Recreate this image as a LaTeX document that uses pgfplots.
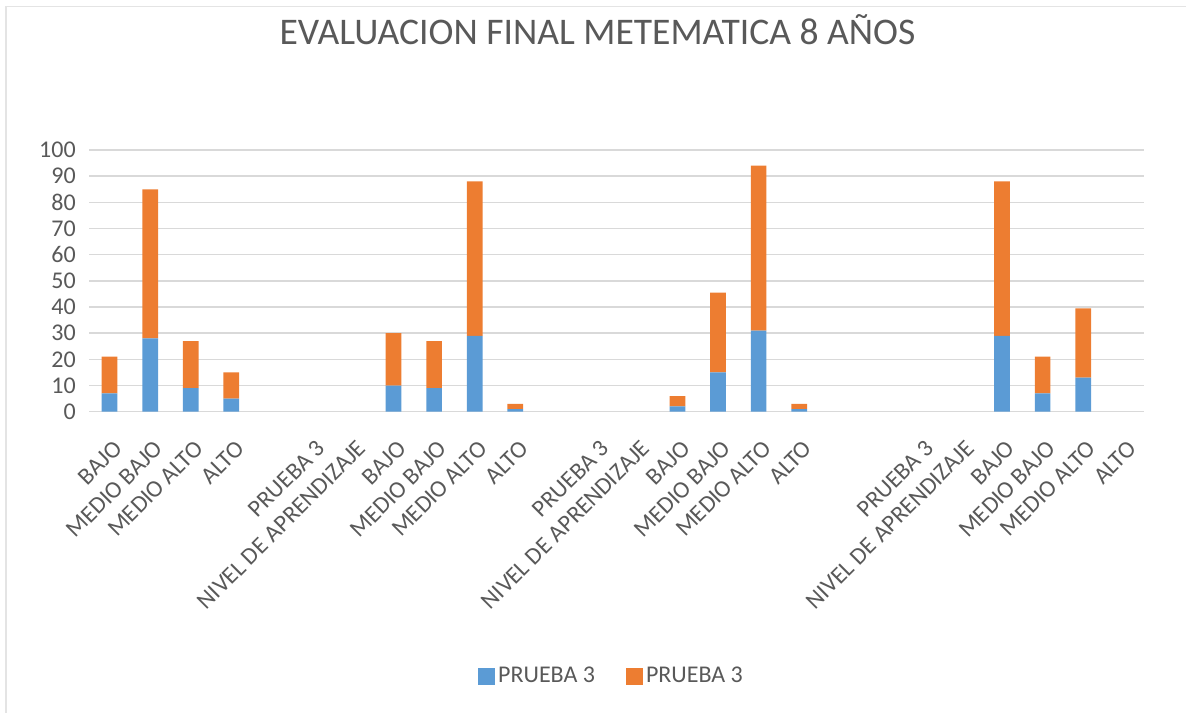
\documentclass[border=0pt]{standalone}
\usepackage{pgfplots}
\pgfplotsset{compat=1.18}
\usepackage{fontspec}
\setmainfont{Carlito}
\definecolor{barblue}{HTML}{5B9BD5}
\definecolor{barorange}{HTML}{ED7D31}
\definecolor{gridgray}{HTML}{D9D9D9}
\definecolor{textgray}{HTML}{595959}
\begin{document}
\begin{tikzpicture}
\path[use as bounding box] (0,0) rectangle (593pt,356.5pt);
\draw[color=gridgray!70, line width=0.75pt] (3pt,0) -- (3pt,353.2pt) -- (593pt,353.2pt);
\node[font=\fontsize{18.8}{22}\selectfont, text=textgray] at (298.75pt,341.5pt) {EVALUACION FINAL METEMATICA 8 AÑOS};
\begin{axis}[
  at={(44.65pt,150.65pt)}, anchor=south west,
  scale only axis, width=527.35pt, height=130.85pt,
  ybar stacked, bar width=7.85pt,
  xmin=-0.5, xmax=25.5, ymin=0, ymax=100,
  ytick={0,10,...,100},
  xtick={0,...,25},
  xticklabels={BAJO,MEDIO BAJO,MEDIO ALTO,ALTO,,PRUEBA 3,NIVEL DE APRENDIZAJE,BAJO,MEDIO BAJO,MEDIO ALTO,ALTO,,PRUEBA 3,NIVEL DE APRENDIZAJE,BAJO,MEDIO BAJO,MEDIO ALTO,ALTO,,,PRUEBA 3,NIVEL DE APRENDIZAJE,BAJO,MEDIO BAJO,MEDIO ALTO,ALTO},
  axis line style={draw=none},
  major tick length=0pt,
  ymajorgrids, grid style={color=gridgray, line width=0.75pt},
  /pgf/number format/assume math mode=true,
  tick label style={font=\fontsize{12}{14}\selectfont, text=textgray},
  yticklabel style={anchor=east, inner sep=0pt, xshift=-6.6pt},
  xticklabel style={xshift=1.5pt, yshift=-13.5pt, rotate=45, anchor=north east, inner sep=0pt},
  legend style={at={(0.4956,-1.01)}, anchor=center, draw=none, fill=none,
    legend columns=2, font=\fontsize{12}{14}\selectfont, text=textgray,
    /tikz/every even column/.append style={column sep=14pt},
    nodes={inner sep=1.5pt}},
  legend image code/.code={\fill[#1,draw=none] (0pt,-4.25pt) rectangle (8.5pt,4.25pt);},
]
\addplot[fill=barblue, draw=none] coordinates {
(0,7) (1,28) (2,9) (3,5) (7,10) (8,9) (9,29) (10,1) (14,2) (15,15) (16,31) (17,1) (22,29) (23,7) (24,13)};
\addlegendentry{PRUEBA 3}
\addplot[fill=barorange, draw=none] coordinates {
(0,14) (1,57) (2,18) (3,10) (7,20) (8,18) (9,59) (10,2) (14,4) (15,30.5) (16,63) (17,2) (22,59) (23,14) (24,26.5)};
\addlegendentry{PRUEBA 3}
\end{axis}
\end{tikzpicture}
\end{document}
